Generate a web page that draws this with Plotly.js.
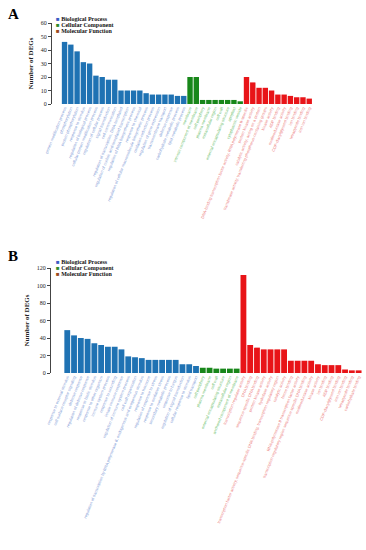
<!DOCTYPE html>
<html><head><meta charset="utf-8">
<script src="https://cdn.plot.ly/plotly-3.0.1.min.js"></script>
<style>html,body{margin:0;padding:0;background:#fff}#chart{width:366px;height:550px}</style>
</head><body><div id="chart"></div>
<script>
// ---------- data ----------
const legendLabels = ["Biological Process", "Cellular Component", "Molecular Function"];
const panelLetters = ["A", "B"];
const yTitle = "Number of DEGs";

const aBPTerms = ["protein modification process","phosphorylation","protein phosphorylation","response to stimulus","regulation of biological process","cellular protein modification process","regulation of cellular process","signal transduction","cell communication","regulation of transcription, DNA-templated","regulation of nucleic acid-templated transcription","regulation of RNA biosynthetic process","response to chemical","regulation of cellular macromolecule biosynthetic process","oxidation-reduction process","regulation of gene expression","transmembrane transport","defense response","carbohydrate metabolic process","lipid metabolic process"];
const aBPVals = [46,44,39,31,30,21,20,18,18,10,10,10,10,8,7,7,7,7,6,6];
const aCCTerms = ["membrane","intrinsic component of membrane","cell periphery","plasma membrane","extracellular region","cell wall","external encapsulating structure","apoplast","cytoplasmic vesicle"];
const aCCVals = [20,20,3,3,3,3,3,3,2];
const aMFTerms = ["DNA-binding transcription factor activity, RNA polymerase II-specific","protein kinase activity","catalytic activity, acting on a protein","transferase activity, transferring phosphorus-containing groups","kinase activity","ADP binding","oxidoreductase activity","CDP-diacylglycerol binding","ion binding","tetrapyrrole binding","iron ion binding"];
const aMFVals = [20,16,12,12,10,7,7,6,5,5,4];

const bBPTerms = ["response to external stimulus","cell surface receptor signaling","defense response","regulation of defense response","response to biotic stimulus","response to other organism","immune system process","response to wounding","innate immune response","regulation of immune system process","cell wall organization","regulation of transcription by RNA polymerase II, endogenous and exogenous stimulus","response to hormone","regulation of response to stress","response to oxidative stress","secondary metabolic process","response to fungus","regulation of signal transduction","cellular response to stimulus","lipid transport"];
const bBPVals = [49,43,40,39,34,32,30,30,27,19,18,17,15,15,15,15,15,10,10,8];
const bCCTerms = ["cell periphery","plasma membrane","cell wall","external encapsulating structure","extracellular region","anchored component of membrane"];
const bCCVals = [6,6,5,5,5,5];
const bMFTerms = ["transcription regulator activity","DNA binding","sequence-specific DNA binding","protein kinase activity","hydrolase activity","transcription factor activity, sequence-specific DNA binding, transcription regulatory region","catalytic activity","heme binding","RNA polymerase II transcription factor activity","transcription regulatory region sequence-specific DNA binding","oxidoreductase activity","kinase activity","ion binding","ADP binding","CDP-diacylglycerol binding","iron ion binding","tetrapyrrole binding","carbohydrate binding"];
const bMFVals = [112,32,29,27,27,27,27,14,14,14,14,10,9,9,9,4,3,3];

// ---------- styles ----------
const barColors = ["#1f72b3", "#18871a", "#e81418"];
const labelColors = ["#7f9bd6", "#6cc06c", "#ec8080"];
const legendMarkColors = ["#3b5cc4", "#2d8a2d", "#9a4a20"];
const serif = "Liberation Serif, Times New Roman, serif";

function colored(terms, c) { return terms.map(t => '<span style="color:' + c + '">' + t + '</span>'); }

function panelTraces(groups, xa, ya) {
  return groups.map((g, i) => ({
    type: "bar", x: g[0], y: g[1], xaxis: xa, yaxis: ya,
    marker: {color: barColors[i]}, showlegend: false, hoverinfo: "x+y"
  }));
}

const groupsA = [[aBPTerms, aBPVals], [aCCTerms, aCCVals], [aMFTerms, aMFVals]];
const groupsB = [[bBPTerms, bBPVals], [bCCTerms, bCCVals], [bMFTerms, bMFVals]];
const data = panelTraces(groupsA, "x", "y").concat(panelTraces(groupsB, "x2", "y2"));

const catsA = aBPTerms.concat(aCCTerms, aMFTerms);
const catsB = bBPTerms.concat(bCCTerms, bMFTerms);
const textA = colored(aBPTerms, labelColors[0]).concat(colored(aCCTerms, labelColors[1]), colored(aMFTerms, labelColors[2]));
const textB = colored(bBPTerms, labelColors[0]).concat(colored(bCCTerms, labelColors[1]), colored(bMFTerms, labelColors[2]));

const W = 366, H = 550;
function xAxis(cats, txt, d0, d1, r0, r1, anchor) {
  return {domain: [d0 / W, d1 / W], range: [r0, r1], type: "category",
    categoryorder: "array", categoryarray: cats, tickmode: "array", tickvals: cats, ticktext: txt,
    tickangle: -68, tickfont: {family: "Liberation Sans, Arial, sans-serif", size: 4},
    showline: false, showgrid: false, ticks: "", automargin: false, anchor: anchor, fixedrange: true};
}
function yAxis(top, bottom, maxv, dt, anchor) {
  return {domain: [1 - bottom / H, 1 - top / H], range: [0, maxv], dtick: dt, showgrid: false, zeroline: false,
    showline: true, linecolor: "#444", linewidth: 1, ticks: "outside", ticklen: 3, tickcolor: "#444",
    tickfont: {family: serif, size: 6, color: "#222"}, automargin: false, anchor: anchor,
    title: {text: "<b>" + yTitle + "</b>", font: {family: serif, size: 7, color: "#222"}, standoff: 6}};
}

const annotations = [];
function addLegend(xPx, yPxs) {
  legendLabels.forEach((lab, i) => {
    annotations.push({xref: "paper", yref: "paper", x: xPx / W, y: 1 - yPxs[i] / H, xanchor: "left", yanchor: "middle",
      showarrow: false, borderpad: 0, text: '<span style="color:' + legendMarkColors[i] + '">■</span> <b>' + lab + '</b>',
      font: {family: serif, size: 6, color: "#111"}});
  });
}
addLegend(55, [18.5, 25, 31.5]);
addLegend(55, [261.5, 268, 274.5]);
annotations.push({xref: "paper", yref: "paper", x: 6 / W, y: 1 - 14 / H, xanchor: "left", yanchor: "middle", showarrow: false,
  text: "<b>" + panelLetters[0] + "</b>", font: {family: serif, size: 15, color: "#000"}});
annotations.push({xref: "paper", yref: "paper", x: 6 / W, y: 1 - 256 / H, xanchor: "left", yanchor: "middle", showarrow: false,
  text: "<b>" + panelLetters[1] + "</b>", font: {family: serif, size: 15, color: "#000"}});

const layout = {
  width: W, height: H, margin: {l: 0, r: 0, t: 0, b: 0}, paper_bgcolor: "#fff", plot_bgcolor: "#fff",
  bargap: 0.14, showlegend: false,
  xaxis: xAxis(catsA, textA, 52, 313, -2, 39.6, "y"),
  yaxis: yAxis(23, 104, 60, 10, "x"),
  xaxis2: xAxis(catsB, textB, 51, 362, -2.4, 43.5, "y2"),
  yaxis2: yAxis(268, 373, 120, 20, "x2"),
  annotations: annotations
};
Plotly.newPlot("chart", data, layout, {displayModeBar: false, staticPlot: true});
</script></body></html>
